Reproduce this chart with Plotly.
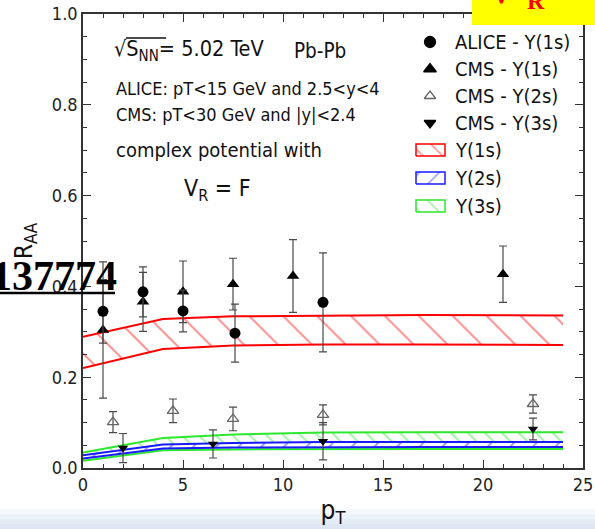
import plotly.graph_objects as go

# ---- measured nuclear modification factors ----
alice_pt = [1, 3, 5, 7.6, 12]
alice_raa = [0.345, 0.388, 0.346, 0.297, 0.365]
alice_err = [0.070, 0.055, 0.046, 0.064, 0.109]

cms1_pt = [1, 3, 5, 7.5, 10.5, 21]
cms1_raa = [0.304, 0.366, 0.388, 0.405, 0.423, 0.427]
cms1_err = [0.150, 0.065, 0.068, 0.057, 0.080, 0.062]

cms2_pt = [1.5, 4.5, 7.5, 12, 22.5]
cms2_raa = [0.101, 0.126, 0.108, 0.117, 0.141]
cms2_err = [0.023, 0.026, 0.026, 0.022, 0.020]

cms3_pt = [2, 6.5, 12, 22.5]
cms3_raa = [0.044, 0.053, 0.059, 0.086]
cms3_err = [0.032, 0.031, 0.041, 0.024]

# ---- model bands (complex potential, V_R = F) ----
band_pt = [0, 4, 7.5, 12, 17, 24]
y1s_lo = [0.220, 0.262, 0.270, 0.272, 0.272, 0.271]
y1s_hi = [0.289, 0.328, 0.334, 0.336, 0.337, 0.336]
y2s_lo = [0.021, 0.043, 0.045, 0.046, 0.046, 0.046]
y2s_hi = [0.028, 0.052, 0.055, 0.057, 0.057, 0.057]
y3s_lo = [0.016, 0.039, 0.041, 0.042, 0.042, 0.042]
y3s_hi = [0.034, 0.066, 0.074, 0.078, 0.079, 0.079]

x_ticks = [0, 5, 10, 15, 20, 25]
y_ticks = [0.0, 0.2, 0.4, 0.6, 0.8, 1.0]

SANS = "DejaVu Sans Condensed, DejaVu Sans, sans-serif"
SERIF = "Liberation Serif, Times New Roman, serif"
RED, BLUE, GREEN = "#ff0000", "#1a1aff", "#2ee82e"

W, H = 595, 529
L, R, T, B = 83, 12, 14, 61
PW, PH = W - L - R, H - T - B


def px(x):
    return (x - L) / PW


def py(y):
    return (T + PH - y) / PH


fig = go.Figure()


def band(xs, lo, hi, color, shape, size, solidity, name):
    fig.add_trace(go.Scatter(x=xs, y=lo, mode="lines", line=dict(color=color, width=2),
                             showlegend=False, hoverinfo="skip"))
    fig.add_trace(go.Scatter(x=xs, y=hi, mode="lines", line=dict(color=color, width=2),
                             fill="tonexty",
                             fillpattern=dict(shape=shape, fgcolor=color, bgcolor="white",
                                              size=size, solidity=solidity),
                             name=name, showlegend=False))


band(band_pt, y1s_lo, y1s_hi, RED, "\\", 24, 0.07, "Y(1s)")
band(band_pt, y3s_lo, y3s_hi, GREEN, "\\", 12, 0.14, "Y(3s)")
band(band_pt, y2s_lo, y2s_hi, BLUE, "/", 16, 0.1, "Y(2s)")

err_style = dict(type="data", color="#4a4a4a", thickness=1.2, width=4)

fig.add_trace(go.Scatter(x=cms1_pt, y=cms1_raa, mode="markers", name="CMS - Y(1s)",
                         error_y=dict(array=cms1_err, **err_style),
                         marker=dict(symbol="triangle-up", size=11, color="black"),
                         showlegend=False))
fig.add_trace(go.Scatter(x=alice_pt, y=alice_raa, mode="markers", name="ALICE - Y(1s)",
                         error_y=dict(array=alice_err, **err_style),
                         marker=dict(symbol="circle", size=11, color="black"),
                         showlegend=False))
fig.add_trace(go.Scatter(x=cms2_pt, y=cms2_raa, mode="markers", name="CMS - Y(2s)",
                         error_y=dict(array=cms2_err, **err_style),
                         marker=dict(symbol="triangle-up-open", size=10, color="#666",
                                     line=dict(width=1.3, color="#666")),
                         showlegend=False))
fig.add_trace(go.Scatter(x=cms3_pt, y=cms3_raa, mode="markers", name="CMS - Y(3s)",
                         error_y=dict(array=cms3_err, **err_style),
                         marker=dict(symbol="triangle-down", size=9, color="black"),
                         showlegend=False))

# ---- hand-placed legend on an overlay axis spanning the plot area ----
key_x = px(430)
marker_keys = [
    (42, "circle", "black", 11, "ALICE - Y(1s)"),
    (69, "triangle-up", "black", 11, "CMS - Y(1s)"),
    (96, "triangle-up-open", "#666", 10, "CMS - Y(2s)"),
    (123, "triangle-down", "black", 10, "CMS - Y(3s)"),
]
for yy, sym, col, sz, _ in marker_keys:
    fig.add_trace(go.Scatter(x=[key_x], y=[py(yy)], xaxis="x2", yaxis="y2", mode="markers",
                             marker=dict(symbol=sym, size=sz, color=col,
                                         line=dict(width=1.3, color=col)),
                             showlegend=False, hoverinfo="skip"))

band_keys = [
    (150, RED, "\\", "Y(1s)"),
    (178, BLUE, "/", "Y(2s)"),
    (206, GREEN, "\\", "Y(3s)"),
]
bx0, bx1 = px(416), px(445)
for yy, col, shape, _ in band_keys:
    y0, y1 = py(yy + 6), py(yy - 6)
    fig.add_trace(go.Scatter(x=[bx0, bx1, bx1, bx0, bx0], y=[y0, y0, y1, y1, y0],
                             xaxis="x2", yaxis="y2", mode="lines", fill="toself",
                             line=dict(color=col, width=1.5),
                             fillpattern=dict(shape=shape, fgcolor=col, bgcolor="white",
                                              size=14, solidity=0.1),
                             showlegend=False, hoverinfo="skip"))


def label(text, x, y, size, family=SANS, color="#111", xanchor="left", yanchor="middle"):
    return dict(text=text, xref="paper", yref="paper", x=px(x), y=py(y), xanchor=xanchor,
                yanchor=yanchor, showarrow=False, font=dict(family=family, size=size, color=color))


annotations = []
for yy, _, _, _, name in marker_keys:
    annotations.append(label(name, 453, yy, 20))
for yy, _, _, name in band_keys:
    annotations.append(label(name, 453, yy, 20))

# ---- labels inside the frame ----
annotations += [
    label("√S<sub>NN</sub>= 5.02 TeV", 112, 51, 21.5),
    label("Pb-Pb", 292, 51, 20.5),
    label("ALICE: pT&lt;15 GeV and 2.5&lt;y&lt;4", 114, 88, 18),
    label("CMS: pT&lt;30 GeV and |y|&lt;2.4", 114, 115, 18),
    label("complex potential with", 114, 150, 20),
    label("V<sub>R</sub> = F", 182, 190, 23),
    # stray overlay text
    label("<b>137774</b>", -11, 276, 42, family=SERIF, color="black"),
    label("<b>V</b>", 501, 12, 34, family=SERIF, color="#ff0000", xanchor="center", yanchor="bottom"),
    label("<b>R</b>", 536, 16, 24, family=SERIF, color="#ff0000", xanchor="center", yanchor="bottom"),
]

shapes = [
    # overline of the square root
    dict(type="line", xref="paper", yref="paper", x0=px(126), x1=px(166), y0=py(38), y1=py(38),
         line=dict(color="#111", width=1.3)),
    # underline of the stray number
    dict(type="line", xref="paper", yref="paper", x0=px(0), x1=px(115), y0=py(293), y1=py(293),
         line=dict(color="black", width=2.5)),
    # yellow label box
    dict(type="rect", xref="paper", yref="paper", x0=px(472), x1=px(600), y0=py(25), y1=py(-5),
         fillcolor="#ffff00", line=dict(width=0), layer="above"),
]
# pale blue strip along the bottom edge
strip = [(509, 514, "#f4f7fc"), (514, 519, "#ecf2f9"), (519, 524, "#e4ecf6"), (524, 535, "#dde7f3")]
for ya, yb, col in strip:
    shapes.append(dict(type="rect", xref="paper", yref="paper", x0=px(-5), x1=px(600),
                       y0=py(yb), y1=py(ya), fillcolor=col, line=dict(width=0), layer="below"))

axis_common = dict(showgrid=False, zeroline=False, ticks="inside", ticklen=8, tickwidth=1.2,
                   tickcolor="#333", showline=True, linecolor="#333", linewidth=1.6,
                   mirror="ticks", automargin=False,
                   tickfont=dict(family=SANS, size=18, color="#222"))

fig.update_layout(
    width=W, height=H,
    margin=dict(l=L, r=R, t=T, b=B, autoexpand=False),
    paper_bgcolor="white", plot_bgcolor="white",
    showlegend=False,
    xaxis=dict(range=[0, 25], tickvals=x_ticks, ticktext=[str(v) for v in x_ticks],
               minor=dict(dtick=1, ticklen=4, ticks="inside", tickcolor="#333"),
               title=dict(text="p<sub>T</sub>", font=dict(family=SANS, size=26, color="#111"),
                          standoff=6),
               **axis_common),
    yaxis=dict(range=[0, 1], tickvals=y_ticks, ticktext=[f"{v:.1f}" for v in y_ticks],
               minor=dict(dtick=0.05, ticklen=4, ticks="inside", tickcolor="#333"),
               title=dict(text="R<sub>AA</sub>", font=dict(family=SANS, size=24, color="#111"),
                          standoff=12),
               **axis_common),
    xaxis2=dict(overlaying="x", range=[0, 1], visible=False, anchor="y2"),
    yaxis2=dict(overlaying="y", range=[0, 1], visible=False, anchor="x2"),
    annotations=annotations,
    shapes=shapes,
)

fig.write_html("out.html")
